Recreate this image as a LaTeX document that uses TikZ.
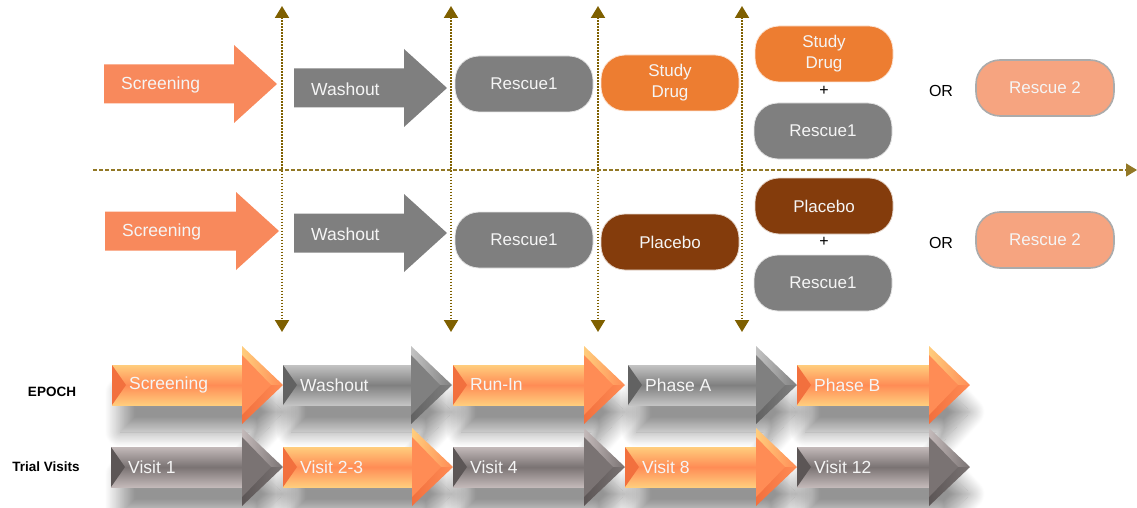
\documentclass[tikz,border=0pt]{standalone}
\usepackage{fontspec}
\setmainfont{Liberation Sans}
\usetikzlibrary{arrows.meta,shadows.blur}

% palette
\definecolor{salmon}{RGB}{248,137,92}
\definecolor{midgray}{RGB}{127,127,127}
\definecolor{drug}{RGB}{237,125,49}
\definecolor{placebo}{RGB}{132,60,12}
\definecolor{rescuetwo}{RGB}{246,164,128}
\definecolor{olive}{RGB}{127,96,0}
\definecolor{oLight}{RGB}{255,205,125}
\definecolor{oMid}{RGB}{255,140,85}
\definecolor{oDark}{RGB}{242,112,62}
\definecolor{gLight}{RGB}{195,195,195}
\definecolor{gMid}{RGB}{128,128,128}
\definecolor{gDark}{RGB}{98,98,98}
\definecolor{vLight}{RGB}{195,185,185}
\definecolor{vMid}{RGB}{122,115,115}
\definecolor{vDark}{RGB}{92,86,86}

\tikzset{
  arrowtext/.style={text=white!96!black,font=\fontsize{17.5}{21}\selectfont,inner sep=0pt},
  pill/.style={rounded corners=24pt,minimum width=138pt,minimum height=56pt,
    text=white!96!black,font=\fontsize{17}{21}\selectfont,align=center,inner sep=0pt},
  grayPill/.style={pill,fill=midgray,draw=white!80!midgray,line width=0.8pt},
  drugPill/.style={pill,fill=drug,draw=white!80!drug,line width=0.8pt},
  placeboPill/.style={pill,fill=placebo,draw=white!80!placebo,line width=0.8pt},
  rescueTwoPill/.style={pill,fill=rescuetwo,draw=black!33,line width=1.6pt},
  plain/.style={text=black,font=\fontsize{16}{19}\selectfont,inner sep=0pt},
  rowlabel/.style={text=black,font=\bfseries\fontsize{13.5}{16}\selectfont,inner sep=0pt},
  milestone/.style={olive,line width=2pt,dash pattern=on 1.6pt off 1.4pt,
    {Triangle[width=14pt,length=12pt]}-{Triangle[width=14pt,length=12pt]}},
  timeline/.style={olive!85,line width=1.3pt,dash pattern=on 4pt off 2pt,
    -{Triangle[width=13pt,length=11pt]}},
  epochShadow/.style={blur shadow={shadow xshift=8pt,shadow yshift=-27pt,
    shadow blur radius=15pt,shadow opacity=42,shadow blur steps=18}}
}

% flat block arrow: name, start x, tip x, centre y, colour, text
\newcommand{\flatarrow}[6]{%
  \fill[#5] (#2,#4-19.5) -- (#3-43,#4-19.5) -- (#3-43,#4-39) -- (#3,#4)
    -- (#3-43,#4+39) -- (#3-43,#4+19.5) -- (#2,#4+19.5) -- cycle;
  \node[arrowtext,anchor=west] (#1) at (#2+17,#4+1) {#6};
}

% outline of a bevelled arrow, used for its shadow
\newcommand{\arrowshadow}[3]{%
  \path[epochShadow] (#1,#3-20) -- (#2-41,#3-20) -- (#2-41,#3-36) -- (#2-8,#3)
    -- (#2-41,#3+36) -- (#2-41,#3+20) -- (#1,#3+20) -- cycle;
}

% bevelled arrow: name, start x, tip x, centre y, palette prefix, text
\newcommand{\bevelarrow}[6]{%
  \shade[top color=#5Light,bottom color=#5Light,middle color=#5Mid]
    (#2,#4-20) rectangle (#3-41,#4+20);
  \fill[#5Dark] (#2,#4-20) -- (#2+14,#4) -- (#2,#4+20) -- cycle;
  \shade[left color=#5Light,right color=#5Mid]
    (#3-41,#4-39) -- (#3,#4) -- (#3-41,#4) -- cycle;
  \shade[left color=#5Dark,right color=#5Mid]
    (#3-41,#4) -- (#3,#4) -- (#3-41,#4+39) -- cycle;
  \fill[#5Mid] (#3-41,#4-30) -- (#3-12,#4) -- (#3-41,#4+30) -- cycle;
  \node[arrowtext,anchor=west] (#1) at (#2+17,#4) {#6};
}

\begin{document}
\begin{tikzpicture}[x=1pt,y=-1pt]
\useasboundingbox (0,0) rectangle (1137,508);

% ---- treatment arms ----
\flatarrow{scrA}{104}{277}{84}{salmon}{Screening}
\flatarrow{washA}{294}{447}{88}{midgray}{Washout}
\node[grayPill] (resA) at (524,84) {Rescue1};
\node[drugPill] (drugA) at (670,83) {Study\\Drug};
\node[drugPill] (drugB) at (824,54) {Study\\Drug};
\node[plain] (plusA) at (824,91) {+};
\node[grayPill] (resB) at (823,131) {Rescue1};
\node[plain] (orA) at (941,91) {OR};
\node[rescueTwoPill] (resTwoA) at (1045,88) {Rescue 2};

\flatarrow{scrB}{105}{279}{231}{salmon}{Screening}
\flatarrow{washB}{294}{447}{233}{midgray}{Washout}
\node[grayPill] (resC) at (524,240) {Rescue1};
\node[placeboPill] (plcA) at (670,242) {Placebo};
\node[placeboPill] (plcB) at (824,206) {Placebo};
\node[plain] (plusB) at (824,242) {+};
\node[grayPill] (resD) at (823,283) {Rescue1};
\node[plain] (orB) at (941,243) {OR};
\node[rescueTwoPill] (resTwoB) at (1045,240) {Rescue 2};

% ---- milestones and time axis ----
\foreach \k/\xx in {1/282,2/451,3/598,4/742}{
  \coordinate (top\k) at (\xx,6);
  \coordinate (bot\k) at (\xx,332);
  \draw[milestone] (top\k) -- (bot\k);
}
\coordinate (axisStart) at (93,170);
\coordinate (axisEnd) at (1137,170);
\draw[timeline] (axisStart) -- (axisEnd);

% ---- epochs and visits ----
\node[rowlabel] (epochLbl) at (52,392) {EPOCH};
\node[rowlabel] (visitLbl) at (46,467) {Trial Visits};

\foreach \a/\b in {112/283,283/452,453/625,628/797,797/970}{
  \arrowshadow{\a}{\b}{385}
  \arrowshadow{\a}{\b}{467}
}

\bevelarrow{epScr}{112}{283}{385}{o}{Screening}
\bevelarrow{epWash}{283}{452}{385}{g}{Washout}
\bevelarrow{epRun}{453}{625}{385}{o}{Run-In}
\bevelarrow{epA}{628}{797}{385}{g}{Phase A}
\bevelarrow{epB}{797}{970}{385}{o}{Phase B}

\bevelarrow{vOne}{111}{283}{467}{v}{Visit 1}
\bevelarrow{vTwo}{283}{453}{467}{o}{Visit 2-3}
\bevelarrow{vFour}{453}{625}{467}{v}{Visit 4}
\bevelarrow{vEight}{625}{797}{467}{o}{Visit 8}
\bevelarrow{vTwelve}{797}{970}{467}{v}{Visit 12}
\end{tikzpicture}
\end{document}
